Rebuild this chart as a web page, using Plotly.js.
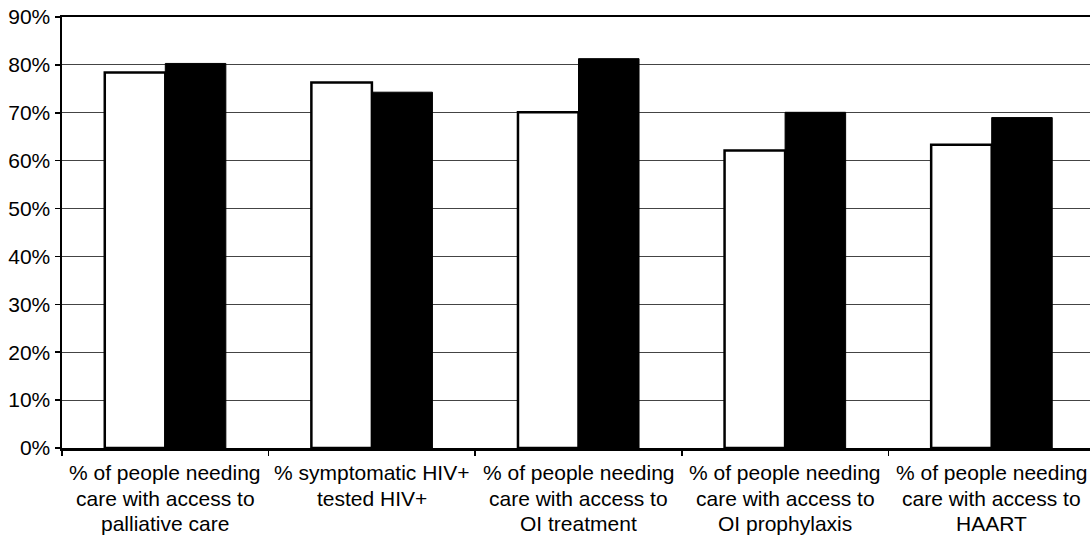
<!DOCTYPE html>
<html>
<head>
<meta charset="utf-8">
<script src="https://cdn.plot.ly/plotly-3.0.1.min.js"></script>
<style>
  html, body { margin: 0; padding: 0; background: #fff; overflow: hidden; }
  #chart { width: 1100px; height: 536px; }
</style>
</head>
<body>
<div id="chart"></div>
<script>
// Indicator categories (line breaks as drawn under the axis)
const categories = [
  "% of people needing<br>care with access to<br>palliative care",
  "% symptomatic HIV+<br>tested HIV+",
  "% of people needing<br>care with access to<br>OI treatment",
  "% of people needing<br>care with access to<br>OI prophylaxis",
  "% of people needing<br>care with access to<br>HAART"
];

// Percent values for the two series (white and black bars)
const whiteSeries = [78.4, 76.3, 70.1, 62.1, 63.3];
const blackSeries = [80.3, 74.3, 81.3, 70.1, 69.0];

const yTickValues = [0, 10, 20, 30, 40, 50, 60, 70, 80, 90];
const yTickLabels = ["0%", "10%", "20%", "30%", "40%", "50%", "60%", "70%", "80%", "90%"];

const font = { family: "Liberation Sans, Arial, sans-serif", size: 21, color: "#000" };

// Category labels are laid out one line per annotation for tighter line spacing
const LINE_STEP = 25.7;
const FIRST_LINE_SHIFT = -11;
const labelAnnotations = [];
categories.forEach(function (cat) {
  cat.split("<br>").forEach(function (line, i) {
    labelAnnotations.push({
      xref: "x",
      yref: "paper",
      x: cat,
      y: 0,
      xanchor: "center",
      yanchor: "top",
      yshift: FIRST_LINE_SHIFT - i * LINE_STEP,
      text: line,
      showarrow: false,
      font: font
    });
  });
});

const traces = [
  {
    type: "bar",
    x: categories,
    y: whiteSeries,
    marker: { color: "#ffffff", line: { color: "#000", width: 2.5 } },
    hoverinfo: "skip"
  },
  {
    type: "bar",
    x: categories,
    y: blackSeries,
    marker: { color: "#000000", line: { color: "#000", width: 1 } },
    hoverinfo: "skip"
  }
];

const layout = {
  width: 1100,
  height: 536,
  margin: { l: 62.4, r: 5, t: 17.3, b: 87.7 },
  paper_bgcolor: "#fff",
  plot_bgcolor: "#fff",
  font: font,
  showlegend: false,
  barmode: "group",
  bargap: 0.414,
  bargroupgap: 0,
  annotations: labelAnnotations,
  xaxis: {
    type: "category",
    categoryarray: categories,
    tickson: "boundaries",
    ticks: "outside",
    ticklen: 5,
    tickwidth: 1.5,
    tickcolor: "#000",
    showticklabels: false,
    showline: true,
    linecolor: "#000",
    linewidth: 2.5,
    mirror: true,
    showgrid: false,
    zeroline: false,
    fixedrange: true
  },
  yaxis: {
    range: [0, 90],
    tickmode: "array",
    tickvals: yTickValues,
    ticktext: yTickLabels,
    ticks: "outside",
    ticklen: 5,
    tickwidth: 1.5,
    tickcolor: "#000",
    showline: true,
    linecolor: "#000",
    linewidth: 2.5,
    showgrid: true,
    gridcolor: "#444",
    gridwidth: 1,
    zeroline: false,
    tickfont: font,
    fixedrange: true
  }
};

Plotly.newPlot("chart", traces, layout, { staticPlot: true, displayModeBar: false });
</script>
</body>
</html>
